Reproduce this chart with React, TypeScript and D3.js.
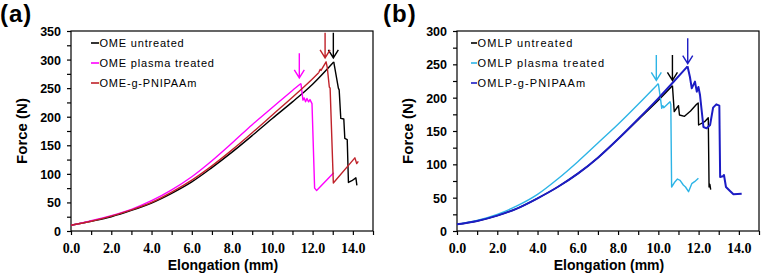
import React, { useEffect, useRef } from "react";
import * as d3 from "d3";

type Pt = [number, number];

// ---------- Panel (a) data ----------
const omeUntreatedRise: Pt[] = [[0,10],[1,17],[2,25],[3,36],[4,49],[5,66],[6,86],[7,111],[8,138],[9,167],[10,197],[11,226],[12,257],[13.05,296]];
const omeUntreatedTail: Pt[] = [[13.05,296],[13.28,250],[13.32,247],[13.4,197],[13.55,196],[13.6,162],[13.72,160],[13.78,85],[13.95,88],[14.15,93],[14.2,80]];
const omePlasmaRise: Pt[] = [[0,10],[1,18],[2,27],[3,38],[4,53],[5,72],[6,95],[7,123],[8,154],[9,186],[10,216],[11,246],[11.42,258]];
const omePlasmaTail: Pt[] = [[11.42,258],[11.47,244],[11.52,229],[11.58,233],[11.65,226],[11.72,232],[11.8,226],[11.87,230],[11.97,223],[12.1,75],[12.2,71],[13.05,102]];
const omeGraftRise: Pt[] = [[0,10],[1,17],[2,26],[3,37],[4,50],[5,68],[6,89],[7,114],[8,142],[9,172],[10,203],[11,234],[11.87,262],[12.3,277]];
const omeGraftTail: Pt[] = [[12.3,277],[12.38,283],[12.42,281],[12.67,296],[12.73,286],[12.83,252],[12.87,250],[13.03,84],[14.1,128],[14.19,118],[14.27,122]];

// ---------- Panel (b) data ----------
const omlpUntreatedRise: Pt[] = [[0,10],[1,15],[2,23],[3,34],[4,49],[5,66],[6,86],[7,110],[8,138],[9,167],[10,196],[10.7,218]];
const omlpUntreatedTail: Pt[] = [[10.7,218],[10.79,179],[10.95,186],[11.0,188],[11.05,174],[11.3,172],[11.6,180],[11.9,190],[11.98,192],[12.0,159],[12.3,164],[12.48,170],[12.52,66],[12.56,70],[12.6,62]];
const omlpPlasmaRise: Pt[] = [[0,10],[1,16],[2,25],[3,38],[4,55],[5,78],[6,104],[7,132],[8,160],[9,190],[10,221]];
const omlpPlasmaTail: Pt[] = [[10,221],[10.1,200],[10.17,184],[10.22,188],[10.27,185],[10.58,194],[10.62,190],[10.66,66],[10.83,74],[10.95,78],[11.08,76],[11.24,69],[11.35,66],[11.5,59],[11.66,71],[11.8,74],[11.99,79]];
const omlpGraftRise: Pt[] = [[0,10],[1,15],[2,23],[3,34],[4,49],[5,66],[6,86],[7,110],[8,138],[9,168],[10,199],[11,232],[11.45,247]];
const omlpGraftTail: Pt[] = [[11.45,247],[11.57,231],[11.66,214],[11.82,224],[11.91,209],[11.99,216],[12.07,204],[12.24,156],[12.4,154],[12.57,159],[12.72,185],[12.88,190],[13.03,188],[13.07,81],[13.2,82],[13.26,84],[13.36,66],[13.56,60],[13.73,55],[14.14,56]];

// arrows: [x, top force, tip force]
const arrowsA: [number, number, number][] = [[13.03,347,303],[12.62,347,303],[11.34,311,268]];
const arrowsB: [number, number, number][] = [[10.7,264,226],[9.9,264,226],[11.46,289,251]];

const legendA = ["OME untreated", "OME plasma treated", "OME-g-PNIPAAm"];
const legendB = ["OMLP untreated", "OMLP plasma treated", "OMLP-g-PNIPAAm"];

const xTicks = d3.range(0, 16, 1);
const xTickLabels = [0, 2, 4, 6, 8, 10, 12, 14];

interface Series { rise: Pt[]; tail: Pt[]; color: string; width: number; }

interface PanelCfg {
  tag: string;
  left: number; right: number; top: number; bottom: number;
  yMax: number;
  series: Series[];
  arrows: [number, number, number][];
  arrowColors: string[];
  legend: string[];
  legendColors: string[];
  legendDash: [number, number];
  legendSpacing: number;
  tagX: number;
}

const BLACK = "#000000";
const MAGENTA = "#ff00ff";
const DARKRED = "#c0222a";
const CYAN = "#2db4e6";
const BLUE = "#1c1cc4";

const panels: PanelCfg[] = [
  {
    tag: "(a)", tagX: 0,
    left: 71, right: 373, top: 31, bottom: 231, yMax: 350,
    series: [
      { rise: omeUntreatedRise, tail: omeUntreatedTail, color: BLACK, width: 1.4 },
      { rise: omePlasmaRise, tail: omePlasmaTail, color: MAGENTA, width: 1.4 },
      { rise: omeGraftRise, tail: omeGraftTail, color: DARKRED, width: 1.4 },
    ],
    arrows: arrowsA, arrowColors: [BLACK, DARKRED, MAGENTA],
    legend: legendA, legendColors: [BLACK, MAGENTA, DARKRED],
    legendDash: [91, 99], legendSpacing: 0.8,
  },
  {
    tag: "(b)", tagX: 383,
    left: 457, right: 759, top: 31, bottom: 231, yMax: 300,
    series: [
      { rise: omlpUntreatedRise, tail: omlpUntreatedTail, color: BLACK, width: 1.4 },
      { rise: omlpPlasmaRise, tail: omlpPlasmaTail, color: CYAN, width: 1.4 },
      { rise: omlpGraftRise, tail: omlpGraftTail, color: BLUE, width: 2.0 },
    ],
    arrows: arrowsB, arrowColors: [BLACK, CYAN, BLUE],
    legend: legendB, legendColors: [BLACK, CYAN, BLUE],
    legendDash: [471, 477], legendSpacing: 1.1,
  },
];

const SANS = "'Liberation Sans', Arial, sans-serif";
const SERIF = "'Liberation Serif', 'Times New Roman', serif";

function drawPanel(g: d3.Selection<SVGGElement, unknown, null, undefined>, p: PanelCfg) {
  const x = d3.scaleLinear().domain([0, 15]).range([p.left, p.right]);
  const y = d3.scaleLinear().domain([0, p.yMax]).range([p.bottom, p.top]);

  // frame
  g.append("rect").attr("x", p.left).attr("y", p.top)
    .attr("width", p.right - p.left).attr("height", p.bottom - p.top)
    .attr("fill", "none").attr("stroke", "#000").attr("stroke-width", 1.2);

  // y axis
  const yAxis = d3.axisLeft(y)
    .tickValues(d3.range(0, p.yMax + 1, 25))
    .tickSize(4).tickPadding(6)
    .tickFormat((d) => ((d as number) % 50 === 0 ? String(d) : ""));
  const ya = g.append("g").attr("transform", `translate(${p.left},0)`).call(yAxis);
  ya.select(".domain").remove();
  ya.selectAll("line").attr("stroke", "#000").attr("stroke-width", 1.2);
  ya.selectAll("text").attr("font-family", SANS).attr("font-weight", "bold")
    .attr("font-size", 12.5).attr("fill", "#000").attr("x", -10).attr("dy", "0.36em");

  // x axis
  const xAxis = d3.axisBottom(x)
    .tickValues(xTicks).tickSize(4)
    .tickFormat((d) => (xTickLabels.includes(d as number) ? d3.format(".1f")(d as number) : ""));
  const xa = g.append("g").attr("transform", `translate(0,${p.bottom})`).call(xAxis);
  xa.select(".domain").remove();
  xa.selectAll("line").attr("stroke", "#000").attr("stroke-width", 1.2);
  xa.selectAll("text").attr("font-family", SERIF).attr("font-weight", "bold")
    .attr("font-size", 14).attr("fill", "#000").attr("y", 22).attr("dy", 0);

  // titles
  g.append("text").attr("x", (p.left + p.right) / 2 + 1).attr("y", 270)
    .attr("text-anchor", "middle").attr("font-family", SANS).attr("font-weight", "bold")
    .attr("font-size", 14).text("Elongation (mm)");
  g.append("text").attr("transform", `translate(${p.left - 44},${(p.top + p.bottom) / 2}) rotate(-90)`)
    .attr("text-anchor", "middle").attr("font-family", SANS).attr("font-weight", "bold")
    .attr("font-size", 15).text("Force (N)");
  g.append("text").attr("x", p.tagX).attr("y", 22)
    .attr("font-family", SANS).attr("font-weight", "bold")
    .attr("font-size", 24).attr("letter-spacing", 1).text(p.tag);

  // curves
  const smooth = d3.line<Pt>().x((d) => x(d[0])).y((d) => y(d[1])).curve(d3.curveMonotoneX);
  const straight = d3.line<Pt>().x((d) => x(d[0])).y((d) => y(d[1]));
  p.series.forEach((s) => {
    g.append("path").attr("d", smooth(s.rise) || "").attr("fill", "none")
      .attr("stroke", s.color).attr("stroke-width", s.width).attr("stroke-linejoin", "round");
    g.append("path").attr("d", straight(s.tail) || "").attr("fill", "none")
      .attr("stroke", s.color).attr("stroke-width", s.width).attr("stroke-linejoin", "round");
  });

  // arrows
  p.arrows.forEach((a, i) => {
    const ax = x(a[0]);
    const yt = y(a[1]);
    const yb = y(a[2]);
    const c = p.arrowColors[i];
    g.append("path")
      .attr("d", `M${ax},${yt}L${ax},${yb}M${ax - 5},${yb - 8}L${ax},${yb}L${ax + 5},${yb - 8}`)
      .attr("fill", "none").attr("stroke", c).attr("stroke-width", 1.4);
  });

  // legend
  p.legend.forEach((name, i) => {
    const ly = 43 + i * 20;
    g.append("line").attr("x1", p.legendDash[0]).attr("x2", p.legendDash[1])
      .attr("y1", ly).attr("y2", ly).attr("stroke", p.legendColors[i]).attr("stroke-width", 1.6);
    g.append("text").attr("x", p.legendDash[1] + 0.5).attr("y", ly + 4)
      .attr("font-family", SANS).attr("font-size", 11)
      .attr("letter-spacing", p.legendSpacing).attr("fill", "#000").text(name);
  });
}

export default function App() {
  const ref = useRef<SVGSVGElement | null>(null);
  useEffect(() => {
    if (!ref.current) return;
    const svg = d3.select(ref.current);
    svg.selectAll("*").remove();
    panels.forEach((p) => {
      const g = svg.append("g");
      drawPanel(g as any, p);
    });
  }, []);
  return (
    <svg
      ref={ref}
      width={762}
      height={276}
      style={{ position: "absolute", left: 0, top: 0, background: "#fff" }}
    />
  );
}
